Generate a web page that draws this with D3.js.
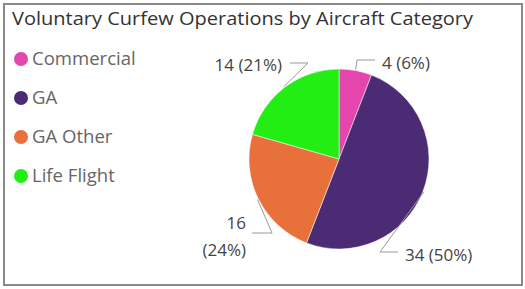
<!DOCTYPE html>
<html><head><meta charset="utf-8">
<script src="https://cdn.jsdelivr.net/npm/d3@7"></script>
<style>body{margin:0;background:#fff;}svg{display:block;font-family:"Open Sans","Noto Sans",sans-serif;}</style>
</head><body><svg id="c" width="525" height="289"></svg>
<script>
const categories = ["Commercial", "GA", "GA Other", "Life Flight"];
const values = [4, 34, 16, 14];
const colors = ["#E347AE", "#4A2B74", "#E8703A", "#22EE14"];
const title = "Voluntary Curfew Operations by Aircraft Category";

const svg = d3.select("#c");
svg.append("rect").attr("x",4).attr("y",4).attr("width",518).attr("height",281)
  .attr("fill","#fff").attr("stroke","#8a8a8a").attr("stroke-width",2);

svg.append("text").attr("x",12).attr("y",25).attr("font-size",18).attr("fill","#333")
  .attr("textLength",461).attr("lengthAdjust","spacingAndGlyphs")
  .text(title);

const color = d3.scaleOrdinal().domain(categories).range(colors);
const legendY = d3.scalePoint().domain(categories).range([59,176]);
const lg = svg.append("g").selectAll("g").data(categories).join("g")
  .attr("transform", d => `translate(0,${legendY(d)})`);
lg.append("circle").attr("cx",21).attr("cy",0).attr("r",7).attr("fill", d=>color(d));
lg.append("text").attr("x",32).attr("y",0).attr("dy","0.36em").attr("font-size",18).attr("fill","#666").text(d=>d)
  .each(function(){ const w=this.getComputedTextLength(); d3.select(this).attr("textLength", w*1.03).attr("lengthAdjust","spacingAndGlyphs"); });

const cx = 339, cy = 159, r = 90;
const total = d3.sum(values);
const pie = d3.pie().sort(null).value(d=>d.v);
const arcs = pie(categories.map((c,i)=>({c, v: values[i]})));
const arc = d3.arc().innerRadius(0).outerRadius(r);
const g = svg.append("g").attr("transform",`translate(${cx},${cy})`);
g.selectAll("path").data(arcs).join("path").attr("d",arc).attr("fill",d=>color(d.data.c))
  .attr("stroke","#fff").attr("stroke-width",0.5);

const fmt = arcs.map(d => `${d.data.v} (${Math.round(d.data.v/total*100)}%)`);
const layouts = [
  {mid: [357,60], end: [375,60], tx: 382, ty: 63, anchor: "start", lines:[fmt[0]]},
  {mid: [380,252], end: [398,252], tx: 405, ty: 255, anchor: "start", lines:[fmt[1]]},
  {mid: [272,233], end: [252,233], tx: 246, ty: 223, anchor: "end", lines:[String(values[2]), fmt[2].split(" ")[1]]},
  {mid: [308,63], end: [290,63], tx: 282, ty: 65, anchor: "end", lines:[fmt[3]]}
];
const lines = svg.append("g");
arcs.forEach((d,i) => {
  const L = layouts[i];
  const a = (d.startAngle + d.endAngle)/2;
  const sx = cx + (r+1)*Math.sin(a), sy = cy - (r+1)*Math.cos(a);
  lines.append("polyline").attr("points", [[sx,sy],L.mid,L.end].map(p=>p.join(",")).join(" "))
    .attr("fill","none").attr("stroke","#999").attr("stroke-width",1);
  const t = svg.append("text").attr("text-anchor",L.anchor).attr("font-size",17).attr("fill","#444");
  L.lines.forEach((s,k)=>{
    t.append("tspan").attr("x",L.tx).attr("y",L.ty + k*27).attr("dy","0.35em").text(s);
  });
});
</script></body></html>
